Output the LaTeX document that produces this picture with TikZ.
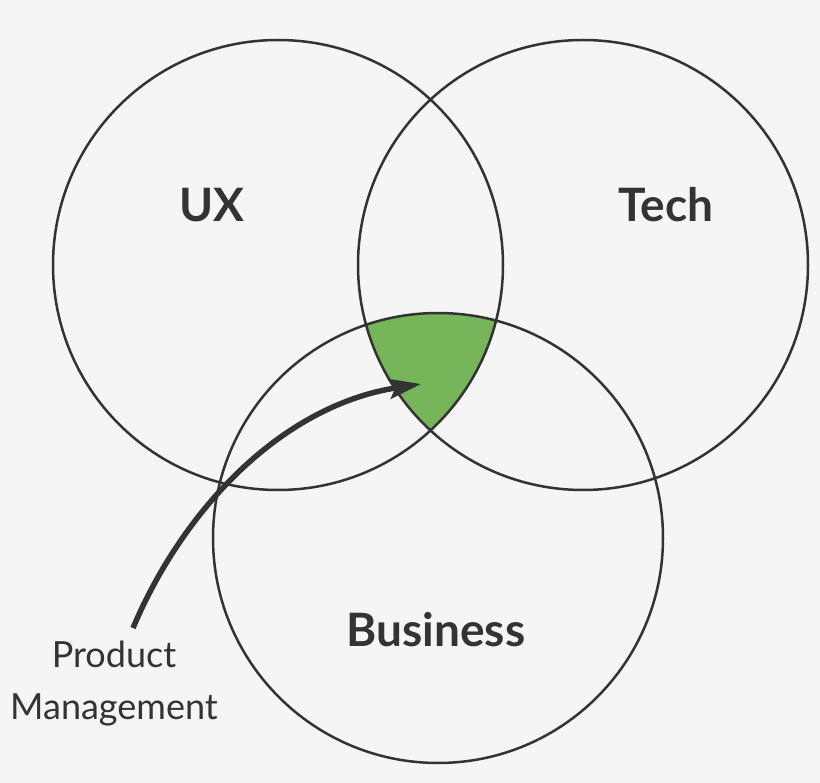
\documentclass[tikz,border=0pt]{standalone}
\usepackage{fontspec}
\setmainfont{Lato}
\usetikzlibrary{arrows.meta}
\definecolor{bg}{HTML}{F5F5F5}
\definecolor{ink}{HTML}{333333}
\definecolor{leaf}{HTML}{77B55A}
\begin{document}
\begin{tikzpicture}[x=1pt,y=-1pt,
  ring/.style={draw=ink,line width=2.5pt},
  biglabel/.style={font=\fontsize{46}{50}\selectfont\bfseries,text=ink},
  smalllabel/.style={font=\fontsize{36}{52}\selectfont,text=ink,align=center}]
\fill[bg] (0,0) rectangle (820,783);
\useasboundingbox (0,0) rectangle (820,783);
\coordinate (cux) at (278,265);
\coordinate (ctech) at (583,265);
\coordinate (cbus) at (438,538);
\begin{scope}
  \clip (cux) circle (225);
  \clip (ctech) circle (225);
  \fill[leaf] (cbus) circle (225);
\end{scope}
\draw[ring] (cux) circle (225);
\draw[ring] (ctech) circle (225);
\draw[ring] (cbus) circle (225);
\node[biglabel] (ux) at (212,205) {UX};
\node[biglabel] (tech) at (666,205) {Tech};
\node[biglabel] (bus) at (436,630) {Business};
\node[smalllabel] (pm) at (114,684) {Product\\Management};
\coordinate (start) at (133,628);
\coordinate (tip) at (421,384);
\draw[draw=ink,line width=5.5pt,-{Stealth[length=32pt,width=20pt,inset=6pt]}]
  (start) .. controls (185,505) and (285,405) .. (tip);
\end{tikzpicture}
\end{document}
